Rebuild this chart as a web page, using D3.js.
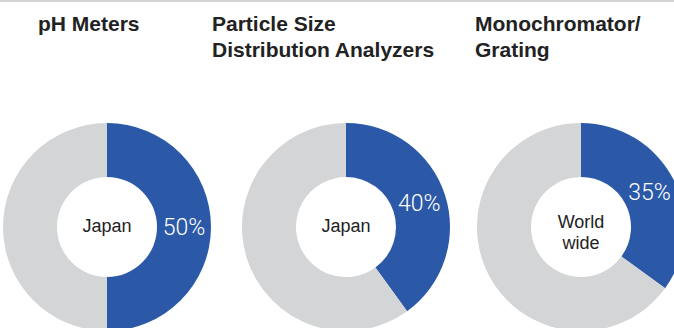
<!DOCTYPE html>
<html>
<head>
<meta charset="utf-8">
<script src="https://cdn.jsdelivr.net/npm/d3@7"></script>
<style>
  body { margin: 0; background: #fff; }
  svg { display: block; }
</style>
</head>
<body>
<div id="chart"></div>
<script>
// chart data
var products = ["pH Meters", "Particle Size Distribution Analyzers", "Monochromator/Grating"];
var titleLines = [["pH Meters"], ["Particle Size", "Distribution Analyzers"], ["Monochromator/", "Grating"]];
var regions = [["Japan"], ["Japan"], ["World", "wide"]];
var shares = [50, 40, 35];

var svgWidth = 674;
var svgHeight = 328;

var svg = d3.select("#chart")
  .append("svg")
  .attr("width", svgWidth)
  .attr("height", svgHeight);

// thin grey rule along the top
svg.append("line")
  .attr("x1", 0).attr("x2", svgWidth)
  .attr("y1", 1).attr("y2", 1)
  .attr("stroke", "#d2d2d2")
  .attr("stroke-width", 2);

// column positions
var xCenter = d3.scaleOrdinal().domain(products).range([107, 346, 581]);
var xTitle = d3.scaleOrdinal().domain(products).range([38, 212, 475]);
var color = d3.scaleOrdinal().domain(["share", "rest"]).range(["#2b59a8", "#d4d5d7"]);

var cy = 227;
var outerR = 104;
var innerR = 50;

var pie = d3.pie().sort(null).value(d => d.value);
var arc = d3.arc().innerRadius(innerR).outerRadius(outerR);

products.forEach(function(name, i) {
  // title
  var t = svg.append("text")
    .attr("x", xTitle(name))
    .attr("y", 31)
    .attr("font-family", "'Liberation Sans', Arial, sans-serif")
    .attr("font-weight", "bold")
    .attr("font-size", "21px")
    .attr("fill", "#222");
  titleLines[i].forEach(function(line, j) {
    t.append("tspan")
      .attr("x", xTitle(name))
      .attr("dy", j === 0 ? 0 : 26)
      .text(line);
  });

  var g = svg.append("g")
    .attr("transform", `translate(${xCenter(name)}, ${cy})`);

  var slices = pie([
    { key: "share", value: shares[i] },
    { key: "rest", value: 100 - shares[i] }
  ]);

  g.selectAll("path")
    .data(slices)
    .enter()
    .append("path")
    .attr("d", arc)
    .attr("fill", d => color(d.data.key));

  // percentage label
  var c = arc.centroid(slices[0]);
  g.append("text")
    .attr("x", c[0])
    .attr("y", c[1])
    .attr("dy", "0.35em")
    .attr("text-anchor", "middle")
    .attr("font-family", "Roboto, sans-serif")
    .attr("font-weight", 300)
    .attr("font-size", "23px")
    .attr("fill", "#fff")
    .text(shares[i] + "%");

  // region label in the hole
  var lines = regions[i];
  var r = g.append("text")
    .attr("text-anchor", "middle")
    .attr("font-family", "'Liberation Sans', Arial, sans-serif")
    .attr("font-size", "18px")
    .attr("fill", "#222");
  lines.forEach(function(line, j) {
    r.append("tspan")
      .attr("x", 0)
      .attr("y", lines.length === 1 ? 5 : 1 + j * 21)
      .text(line);
  });
});
</script>
</body>
</html>
